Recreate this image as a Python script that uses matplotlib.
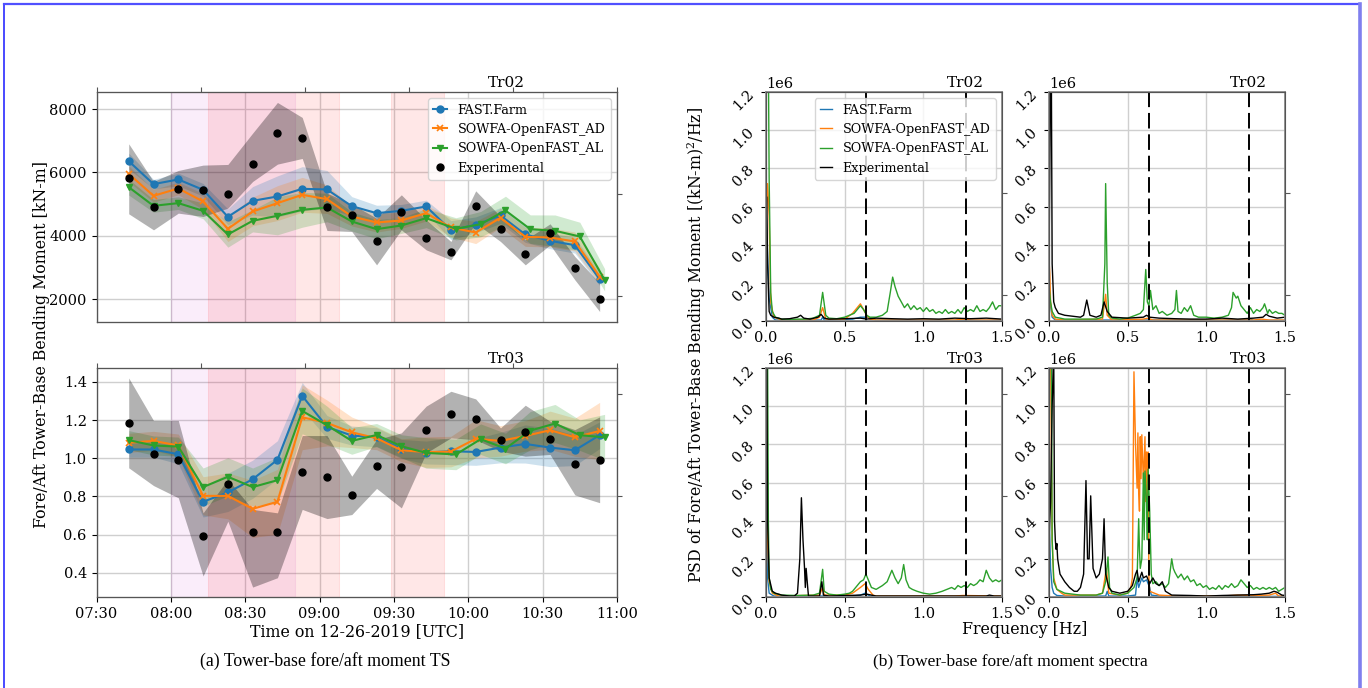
import numpy as np
import matplotlib
matplotlib.use("Agg")
import matplotlib.pyplot as plt
import matplotlib.dates as mdates
from matplotlib.lines import Line2D

plt.rcParams.update({
    "font.family": "serif",
    "font.serif": ["DejaVu Serif"],
    "font.size": 11,
    "xtick.labelsize": 10.5,
    "ytick.labelsize": 10.5,
    "mathtext.fontset": "dejavuserif",
    "axes.edgecolor": "#555555",
    "grid.color": "#cfcfcf",
    "grid.linewidth": 1.0,
})

labels = ["FAST.Farm", "SOWFA-OpenFAST_AD", "SOWFA-OpenFAST_AL", "Experimental"]
colors = ["#1f77b4", "#ff7f0e", "#2ca02c", "k"]

# ---------------- time series (10-min means) ----------------
times = ["07:43", "07:53", "08:03", "08:13", "08:23", "08:33", "08:43", "08:53", "09:03", "09:13",
         "09:23", "09:33", "09:43", "09:53", "10:03", "10:13", "10:23", "10:33", "10:43", "10:53"]
times_al = times[:13] + ["09:55", "10:05", "10:15", "10:25", "10:35", "10:45", "10:55"]

# Tr02 [kN-m]
tr02_ff = [6358, 5632, 5779, 5453, 4600, 5105, 5242, 5484, 5463, 4937,
           4716, 4790, 4926, 4179, 4347, 4642, 4042, 3842, 3705, 2632]
tr02_ad = [5958, 5263, 5495, 5084, 4221, 4768, 5032, 5295, 5158, 4611,
           4421, 4484, 4716, 4263, 4105, 4568, 3968, 3947, 3821, 2716]
tr02_al = [5537, 4947, 5032, 4789, 4042, 4474, 4632, 4821, 4895, 4453,
           4211, 4326, 4558, 4221, 4368, 4800, 4211, 4158, 3979, 2611]
tr02_exp = [5821, 4916, 5474, 5442, 5326, 6274, 7232, 7095, 4916, 4663,
            3821, 4737, 3947, 3474, 4926, 4211, 3432, 4084, 2979, 2021]
tr02_ff_sd = [250, 150, 200, 200, 250, 450, 650, 700, 600, 300,
              250, 200, 200, 300, 250, 250, 250, 250, 250, 200]
tr02_ad_sd = [250, 200, 200, 250, 400, 450, 550, 550, 450, 300,
              300, 250, 250, 300, 350, 300, 300, 300, 300, 250]
tr02_al_sd = [250, 200, 200, 250, 400, 350, 600, 550, 450, 300,
              300, 250, 300, 350, 400, 450, 450, 500, 450, 350]
tr02_exp_lo = [4695, 4189, 4716, 4611, 4874, 5716, 6263, 6442, 4168, 4137,
               3084, 4189, 3558, 3242, 4400, 3821, 3084, 3716, 2611, 1611]
tr02_exp_hi = [6905, 5716, 6063, 6232, 6253, 7242, 8210, 7737, 5347, 5000,
               4558, 5295, 4505, 3821, 5421, 4611, 3874, 4379, 3347, 2505]

# Tr03 [normalised]
tr03_ff = [1.046, 1.046, 1.021, 0.772, 0.821, 0.890, 0.992, 1.327, 1.164, 1.119,
           1.110, 1.049, 1.030, 1.037, 1.033, 1.056, 1.075, 1.056, 1.042, 1.121]
tr03_ad = [1.081, 1.091, 1.067, 0.803, 0.803, 0.735, 0.772, 1.215, 1.185, 1.136,
           1.105, 1.042, 1.032, 1.035, 1.102, 1.091, 1.117, 1.147, 1.110, 1.143]
tr03_al = [1.095, 1.067, 1.061, 0.849, 0.903, 0.849, 0.885, 1.248, 1.173, 1.091,
           1.122, 1.063, 1.028, 1.020, 1.100, 1.051, 1.145, 1.182, 1.121, 1.110]
tr03_exp = [1.184, 1.023, 0.992, 0.595, 0.866, 0.615, 0.615, 0.927, 0.903, 0.805,
            0.957, 0.955, 1.147, 1.234, 1.206, 1.096, 1.138, 1.102, 0.971, 0.992]
tr03_ff_sd = [0.04, 0.04, 0.05, 0.08, 0.10, 0.10, 0.10, 0.07, 0.06, 0.05,
              0.05, 0.05, 0.06, 0.07, 0.07, 0.08, 0.10, 0.10, 0.08, 0.07]
tr03_ad_sd = [0.05, 0.05, 0.06, 0.10, 0.12, 0.15, 0.17, 0.17, 0.12, 0.08,
              0.06, 0.06, 0.08, 0.08, 0.10, 0.08, 0.08, 0.10, 0.10, 0.15]
tr03_al_sd = [0.05, 0.05, 0.05, 0.10, 0.10, 0.10, 0.12, 0.12, 0.10, 0.07,
              0.06, 0.06, 0.08, 0.08, 0.08, 0.08, 0.10, 0.10, 0.08, 0.12]
tr03_exp_lo = [0.950, 0.857, 0.793, 0.383, 0.670, 0.325, 0.374, 0.732, 0.684, 0.705,
               0.842, 0.740, 1.028, 1.107, 1.098, 1.037, 1.011, 1.020, 0.808, 0.767]
tr03_exp_hi = [1.421, 1.198, 1.198, 0.714, 0.889, 0.732, 0.714, 1.119, 1.119, 0.906,
               1.098, 1.133, 1.273, 1.351, 1.311, 1.159, 1.278, 1.194, 1.150, 1.217]

# shaded periods
spans = [("08:00", "08:50", "m", 0.07), ("08:15", "09:08", "r", 0.094), ("09:29", "09:50", "r", 0.094)]

# ---------------- spectra (units of 1e6 (kN-m)^2/Hz) ----------------
# Tr02, left
tl_ff_f = [0, 0.01, 0.02, 0.04, 0.06, 0.35, 0.36, 0.37, 0.55, 0.6, 0.65, 0.7, 1.5]
tl_ff_p = [0.6, 0.35, 0.12, 0.02, 0.005, 0.005, 0.02, 0.005, 0.01, 0.02, 0.02, 0.005, 0.003]
tl_ad_f = [0, 0.01, 0.02, 0.03, 0.05, 0.1, 0.3, 0.34, 0.36, 0.38, 0.5, 0.55, 0.58, 0.6, 0.62, 0.64,
           0.66, 0.7, 1.2, 1.25, 1.3, 1.5]
tl_ad_p = [0.5, 0.72, 0.55, 0.1, 0.02, 0.005, 0.005, 0.02, 0.07, 0.01, 0.01, 0.04, 0.07, 0.09, 0.06, 0.03,
           0.01, 0.005, 0.005, 0.01, 0.005, 0.005]
tl_al_f = [0, 0.01, 0.02, 0.03, 0.04, 0.06, 0.1, 0.15, 0.2, 0.25, 0.3, 0.34, 0.36, 0.38, 0.4, 0.45,
           0.5, 0.53, 0.56, 0.58, 0.6, 0.62, 0.64, 0.66, 0.7, 0.74, 0.77, 0.79, 0.805, 0.82, 0.84,
           0.86, 0.88, 0.9, 0.92, 0.94, 0.96, 0.98, 1.0, 1.02, 1.04, 1.06, 1.08, 1.1, 1.12, 1.14,
           1.16, 1.18, 1.2, 1.22, 1.24, 1.26, 1.28, 1.3, 1.32, 1.34, 1.36, 1.38, 1.4, 1.42, 1.44,
           1.46, 1.48, 1.5]
tl_al_p = [1.6, 2.0, 0.75, 0.15, 0.05, 0.02, 0.01, 0.008, 0.01, 0.01, 0.015, 0.03, 0.15, 0.03, 0.015,
           0.012, 0.02, 0.03, 0.04, 0.06, 0.08, 0.06, 0.03, 0.02, 0.02, 0.03, 0.05, 0.15, 0.23, 0.18,
           0.13, 0.1, 0.07, 0.09, 0.06, 0.08, 0.06, 0.07, 0.05, 0.07, 0.05, 0.06, 0.04, 0.05, 0.04,
           0.06, 0.04, 0.05, 0.04, 0.06, 0.04, 0.07, 0.05, 0.06, 0.05, 0.08, 0.05, 0.06, 0.05, 0.07,
           0.1, 0.06, 0.08, 0.08]
tl_exp_f = [0, 0.005, 0.01, 0.02, 0.03, 0.05, 0.08, 0.1, 0.15, 0.2, 0.22, 0.24, 0.28, 0.33, 0.35,
            0.37, 0.4, 0.5, 0.6, 0.64, 0.7, 0.8, 0.9, 1.0, 1.1, 1.2, 1.3, 1.4, 1.5]
tl_exp_p = [0.3, 0.65, 0.3, 0.05, 0.03, 0.02, 0.015, 0.01, 0.012, 0.02, 0.03, 0.015, 0.01, 0.02, 0.035,
            0.015, 0.01, 0.012, 0.015, 0.01, 0.015, 0.012, 0.01, 0.012, 0.01, 0.015, 0.012, 0.015, 0.01]

# Tr02, right
tr_ff_f = [0, 0.01, 0.02, 0.04, 1.26, 1.28, 1.3, 1.5]
tr_ff_p = [0.15, 0.08, 0.02, 0.005, 0.005, 0.01, 0.003, 0.003]
tr_ad_f = [0, 0.005, 0.01, 0.02, 0.04, 0.1, 0.34, 0.36, 0.37, 0.4, 0.6, 0.63, 0.66, 1.3, 1.35, 1.4, 1.5]
tr_ad_p = [0.32, 0.25, 0.1, 0.03, 0.01, 0.005, 0.01, 0.14, 0.03, 0.005, 0.01, 0.015, 0.005, 0.005,
           0.01, 0.005, 0.005]
tr_al_f = [0, 0.01, 0.02, 0.04, 0.1, 0.2, 0.3, 0.34, 0.355, 0.36, 0.37, 0.38, 0.4, 0.45, 0.5, 0.55,
           0.58, 0.6, 0.615, 0.625, 0.635, 0.645, 0.66, 0.68, 0.7, 0.72, 0.75, 0.78, 0.8, 0.81, 0.82,
           0.84, 0.86, 0.88, 0.9, 0.92, 0.95, 1.0, 1.05, 1.1, 1.14, 1.16, 1.17, 1.19, 1.2, 1.22,
           1.24, 1.26, 1.28, 1.3, 1.32, 1.34, 1.36, 1.37, 1.39, 1.4, 1.42, 1.44, 1.46, 1.48, 1.5]
tr_al_p = [0.18, 0.1, 0.05, 0.02, 0.01, 0.01, 0.01, 0.02, 0.3, 0.72, 0.2, 0.03, 0.015, 0.01, 0.015,
           0.03, 0.04, 0.06, 0.27, 0.1, 0.08, 0.16, 0.06, 0.08, 0.04, 0.05, 0.03, 0.04, 0.06, 0.16,
           0.05, 0.04, 0.07, 0.05, 0.08, 0.03, 0.02, 0.02, 0.015, 0.02, 0.03, 0.07, 0.15, 0.12, 0.13,
           0.08, 0.06, 0.04, 0.07, 0.04, 0.06, 0.05, 0.07, 0.09, 0.04, 0.06, 0.04, 0.05, 0.04, 0.04, 0.03]
tr_exp_f = [0, 0.01, 0.015, 0.02, 0.03, 0.04, 0.06, 0.1, 0.15, 0.2, 0.22, 0.24, 0.26, 0.3, 0.33, 0.35,
            0.37, 0.4, 0.5, 0.6, 0.62, 0.64, 0.7, 0.8, 0.9, 1.0, 1.1, 1.2, 1.3, 1.36, 1.38, 1.4, 1.45, 1.5]
tr_exp_p = [0.3, 1.3, 1.3, 0.3, 0.1, 0.07, 0.04, 0.03, 0.025, 0.02, 0.03, 0.11, 0.03, 0.02, 0.03, 0.1,
            0.05, 0.02, 0.015, 0.02, 0.03, 0.02, 0.015, 0.012, 0.01, 0.01, 0.015, 0.01, 0.015, 0.02,
            0.035, 0.025, 0.015, 0.02]

# Tr03, left
bl_ff_f = [0, 0.005, 0.01, 0.02, 0.05, 0.55, 0.6, 0.63, 0.66, 1.5]
bl_ff_p = [1.3, 0.5, 0.1, 0.02, 0.005, 0.005, 0.01, 0.02, 0.005, 0.003]
bl_ad_f = [0, 0.005, 0.01, 0.02, 0.04, 0.08, 0.34, 0.36, 0.37, 0.5, 0.55, 0.6, 0.63, 0.65, 0.68, 0.7,
           1.2, 1.25, 1.5]
bl_ad_p = [1.0, 1.3, 0.3, 0.08, 0.02, 0.005, 0.01, 0.05, 0.01, 0.01, 0.02, 0.05, 0.07, 0.04, 0.01,
           0.005, 0.005, 0.008, 0.005]
bl_al_f = [0, 0.01, 0.015, 0.02, 0.03, 0.05, 0.1, 0.2, 0.3, 0.34, 0.36, 0.37, 0.4, 0.45, 0.5, 0.53,
           0.55, 0.58, 0.6, 0.62, 0.635, 0.65, 0.67, 0.7, 0.72, 0.74, 0.77, 0.8, 0.82, 0.84, 0.86,
           0.875, 0.89, 0.91, 0.93, 0.96, 1.0, 1.04, 1.08, 1.12, 1.15, 1.18, 1.2, 1.22, 1.24, 1.26,
           1.28, 1.3, 1.32, 1.34, 1.36, 1.38, 1.4, 1.42, 1.44, 1.46, 1.48, 1.5]
bl_al_p = [1.5, 1.3, 0.4, 0.1, 0.04, 0.02, 0.01, 0.008, 0.01, 0.02, 0.145, 0.03, 0.015, 0.01, 0.015,
           0.02, 0.03, 0.06, 0.08, 0.09, 0.12, 0.09, 0.05, 0.04, 0.05, 0.06, 0.08, 0.14, 0.1, 0.07,
           0.1, 0.17, 0.09, 0.05, 0.04, 0.03, 0.02, 0.015, 0.02, 0.03, 0.04, 0.05, 0.04, 0.06, 0.05,
           0.06, 0.05, 0.07, 0.06, 0.07, 0.09, 0.08, 0.14, 0.1, 0.08, 0.09, 0.08, 0.09]
bl_exp_f = [0, 0.005, 0.01, 0.02, 0.04, 0.06, 0.1, 0.15, 0.18, 0.2, 0.215, 0.225, 0.235, 0.245, 0.25,
            0.255, 0.265, 0.27, 0.34, 0.355, 0.365, 0.4, 0.6, 0.64, 0.7, 1.4, 1.42, 1.45, 1.5]
bl_exp_p = [0.5, 1.4, 0.4, 0.1, 0.03, 0.02, 0.01, 0.005, 0.005, 0.02, 0.2, 0.52, 0.3, 0.15, 0.05,
            0.15, 0.05, 0.005, 0.005, 0.08, 0.01, 0.005, 0.01, 0.015, 0.005, 0.005, 0.01, 0.005, 0.005]

# Tr03, right
br_ff_f = [0, 0.005, 0.01, 0.02, 0.03, 0.05, 0.1, 0.36, 0.37, 0.38, 0.5, 0.55, 0.56, 0.57, 0.59, 0.6,
           0.62, 0.64, 0.65, 0.7, 1.5]
br_ff_p = [0.48, 0.3, 0.15, 0.05, 0.02, 0.008, 0.005, 0.005, 0.03, 0.005, 0.005, 0.01, 0.1, 0.05,
           0.1, 0.08, 0.09, 0.05, 0.01, 0.005, 0.003]
br_ad_f = [0, 0.01, 0.02, 0.03, 0.05, 0.08, 0.1, 0.2, 0.3, 0.34, 0.365, 0.38, 0.45, 0.5, 0.52, 0.53,
           0.54, 0.55, 0.56, 0.565, 0.57, 0.575, 0.58, 0.585, 0.59, 0.6, 0.61, 0.615, 0.62, 0.625,
           0.63, 0.635, 0.64, 0.7, 0.8, 1.1, 1.2, 1.3, 1.4, 1.44, 1.46, 1.5]
br_ad_p = [1.3, 1.3, 0.3, 0.1, 0.04, 0.02, 0.01, 0.01, 0.01, 0.02, 0.15, 0.02, 0.01, 0.02, 0.05, 0.1,
           1.18, 0.8, 0.57, 0.86, 0.55, 0.45, 0.84, 0.62, 0.85, 0.6, 0.84, 0.5, 0.76, 0.45, 0.76, 0.1,
           0.03, 0.01, 0.005, 0.005, 0.01, 0.008, 0.01, 0.02, 0.005, 0.005]
br_al_f = [0, 0.015, 0.02, 0.03, 0.05, 0.1, 0.2, 0.3, 0.34, 0.36, 0.375, 0.385, 0.4, 0.45, 0.5, 0.54,
           0.56, 0.57, 0.575, 0.58, 0.59, 0.6, 0.605, 0.61, 0.62, 0.625, 0.63, 0.64, 0.65, 0.66, 0.68,
           0.7, 0.72, 0.74, 0.76, 0.78, 0.79, 0.8, 0.82, 0.84, 0.86, 0.88, 0.9, 0.92, 0.94, 0.96,
           0.98, 1.0, 1.02, 1.04, 1.06, 1.08, 1.1, 1.12, 1.14, 1.16, 1.18, 1.2, 1.22, 1.24, 1.26,
           1.28, 1.3, 1.32, 1.34, 1.36, 1.38, 1.4, 1.42, 1.44, 1.46, 1.48, 1.5]
br_al_p = [1.3, 1.3, 0.3, 0.08, 0.04, 0.02, 0.01, 0.01, 0.02, 0.08, 0.21, 0.05, 0.02, 0.01, 0.02, 0.05,
           0.1, 0.41, 0.25, 0.15, 0.2, 0.65, 0.3, 0.66, 0.5, 0.3, 0.67, 0.45, 0.12, 0.07, 0.08, 0.06,
           0.07, 0.05, 0.07, 0.2, 0.15, 0.13, 0.1, 0.12, 0.09, 0.11, 0.08, 0.09, 0.06, 0.07, 0.05,
           0.06, 0.04, 0.05, 0.04, 0.06, 0.04, 0.06, 0.05, 0.07, 0.05, 0.06, 0.09, 0.07, 0.05, 0.06,
           0.04, 0.05, 0.04, 0.05, 0.04, 0.05, 0.04, 0.05, 0.03, 0.04, 0.05]
br_exp_f = [0, 0.01, 0.02, 0.03, 0.035, 0.04, 0.045, 0.05, 0.055, 0.07, 0.1, 0.13, 0.16, 0.18, 0.2,
            0.22, 0.235, 0.245, 0.255, 0.265, 0.28, 0.3, 0.32, 0.34, 0.35, 0.36, 0.38, 0.4, 0.45,
            0.5, 0.53, 0.55, 0.56, 0.57, 0.59, 0.6, 0.62, 0.64, 0.66, 0.68, 0.7, 0.72, 0.74, 0.78,
            0.9, 1.0, 1.1, 1.2, 1.3, 1.35, 1.4, 1.43, 1.45, 1.48, 1.5]
br_exp_p = [0.3, 0.5, 1.0, 1.3, 0.4, 0.3, 0.25, 0.28, 0.2, 0.12, 0.08, 0.05, 0.03, 0.03, 0.05,
            0.12, 0.61, 0.2, 0.2, 0.53, 0.15, 0.1, 0.12, 0.2, 0.41, 0.12, 0.05, 0.03, 0.02,
            0.03, 0.06, 0.12, 0.14, 0.08, 0.13, 0.1, 0.11, 0.07, 0.1, 0.07, 0.06, 0.08, 0.03, 0.01,
            0.008, 0.005, 0.008, 0.01, 0.012, 0.015, 0.02, 0.03, 0.025, 0.01, 0.008]

freq_marks = [0.635, 1.27]

W, H = 1368, 688
fig = plt.figure(figsize=(W / 100, H / 100), dpi=100)


def box(x0, y0, x1, y1):
    return [x0 / W, 1 - y1 / H, (x1 - x0) / W, (y1 - y0) / H]


def dt(hm):
    return np.array(["2019-12-26T" + t for t in np.atleast_1d(hm)], dtype="datetime64[m]")


def extra_ticks(ax, yfr, top=False):
    tw = ax.twinx()
    tw.set_ylim(0, 1)
    tw.set_yticks(yfr)
    tw.set_yticklabels([])
    tw.tick_params(length=3.5, color="#555555")
    if top:
        tt = ax.twiny()
        tt.set_xlim(0, 1)
        tt.set_xticks([0, 0.2, 0.4, 0.6, 0.8, 1.0])
        tt.set_xticklabels([])
        tt.tick_params(length=3.5, color="#555555")


# ---------------- left: time series ----------------
ts_rows = [
    ("Tr02", tr02_ff, tr02_ad, tr02_al, tr02_exp, tr02_ff_sd, tr02_ad_sd, tr02_al_sd,
     tr02_exp_lo, tr02_exp_hi, (1280, 8540), [2000, 4000, 6000, 8000], 92, 322, [0.114, 0.558]),
    ("Tr03", tr03_ff, tr03_ad, tr03_al, tr03_exp, tr03_ff_sd, tr03_ad_sd, tr03_al_sd,
     tr03_exp_lo, tr03_exp_hi, (0.273, 1.473), [0.4, 0.6, 0.8, 1.0, 1.2, 1.4], 368, 597, [0.44, 0.885]),
]
t = dt(times)
t_al = dt(times_al)
for i, (name, ff, ad, al, ex, ffs, ads, als, lo, hi, ylim, yt, y0, y1, rt) in enumerate(ts_rows):
    ax = fig.add_axes(box(96.5, y0, 617, y1))
    for a, b, c, al_ in spans:
        ax.axvspan(dt(a)[0], dt(b)[0], color=c, alpha=al_, lw=0.8)
    for vals, sd, tt, c in [(ff, ffs, t, colors[0]), (ad, ads, t, colors[1]), (al, als, t_al, colors[2])]:
        v = np.array(vals)
        s = np.array(sd)
        ax.fill_between(tt, v - s, v + s, color=c, alpha=0.22, lw=0)
    ax.fill_between(t, lo, hi, color="k", alpha=0.3, lw=0)
    ax.plot(t, ff, "-o", color=colors[0], ms=5, lw=1.5, label=labels[0])
    ax.plot(t, ad, "-x", color=colors[1], ms=5, mew=1.2, lw=1.5, label=labels[1])
    ax.plot(t_al, al, "-v", color=colors[2], ms=5, lw=1.5, label=labels[2])
    ax.plot(t, ex, "o", color="k", ms=5, label=labels[3])
    ax.set_xlim(dt("07:30")[0], dt("11:00")[0])
    ax.set_ylim(*ylim)
    ax.set_yticks(yt)
    ax.xaxis.set_major_locator(mdates.MinuteLocator(byminute=[0, 30]))
    ax.xaxis.set_major_formatter(mdates.DateFormatter("%H:%M"))
    ax.grid(True)
    ax.set_axisbelow(True)
    ax.text(0.787, 1.01, name, transform=ax.transAxes, ha="center", va="bottom")
    if i == 0:
        ax.tick_params(axis="x", labelbottom=False, length=0)
        ax.legend(loc="upper right", fontsize=9.2, handlelength=1.1, framealpha=0.8)
    else:
        ax.set_xlabel("Time on 12-26-2019 [UTC]", labelpad=2, fontsize=11.4)
    extra_ticks(ax, rt, top=True)

fig.text(42 / W, 1 - 344 / H, "Fore/Aft Tower-Base Bending Moment [kN-m]", rotation=90,
         ha="center", va="center", fontsize=11.3)

# ---------------- right: spectra ----------------
spec_panels = [
    ("Tr02", 766, 1002, 92, 321, [(tl_ff_f, tl_ff_p), (tl_ad_f, tl_ad_p), (tl_al_f, tl_al_p), (tl_exp_f, tl_exp_p)], [0.114, 0.558]),
    ("Tr02", 1049, 1285, 92, 321, [(tr_ff_f, tr_ff_p), (tr_ad_f, tr_ad_p), (tr_al_f, tr_al_p), (tr_exp_f, tr_exp_p)], [0.114, 0.558]),
    ("Tr03", 766, 1002, 368, 597, [(bl_ff_f, bl_ff_p), (bl_ad_f, bl_ad_p), (bl_al_f, bl_al_p), (bl_exp_f, bl_exp_p)], [0.44, 0.885]),
    ("Tr03", 1049, 1285, 368, 597, [(br_ff_f, br_ff_p), (br_ad_f, br_ad_p), (br_al_f, br_al_p), (br_exp_f, br_exp_p)], [0.44, 0.885]),
]
for k, (name, x0, x1, y0, y1, series, rt) in enumerate(spec_panels):
    ax = fig.add_axes(box(x0, y0, x1, y1))
    for (f, p), c, lab in zip(series, colors, labels):
        ax.plot(f, np.array(p) * 1e6, color=c, lw=1.0, label=lab)
    for fm in freq_marks:
        ax.axvline(fm, color="k", ls=(0, (8, 3)), lw=1.4)
    ax.set_xlim(0, 1.5)
    ax.set_ylim(0, 1.2e6)
    ax.set_xticks([0, 0.5, 1.0, 1.5])
    ax.set_yticks(np.arange(0, 1.21e6, 0.2e6))
    ax.tick_params(axis="y", labelrotation=45)
    ax.grid(True)
    ax.set_axisbelow(True)
    for sp in ax.spines.values():
        sp.set_color("#8c8c8c")
        sp.set_linewidth(1.3)
    ax.text(0.845, 1.01, name, transform=ax.transAxes, ha="center", va="bottom")
    if k == 0:
        ax.legend(loc="upper right", fontsize=9.2, handlelength=1.0, framealpha=0.8)
    extra_ticks(ax, rt)

fig.text(697 / W, 1 - 345 / H, "PSD of Fore/Aft Tower-Base Bending Moment [(kN-m)$^2$/Hz]",
         rotation=90, ha="center", va="center", fontsize=11.3)
fig.text(1025 / W, 1 - 630 / H, "Frequency [Hz]", ha="center", va="center", fontsize=11.4)

# captions
fig.text(325 / W, 1 - 661 / H, "(a) Tower-base fore/aft moment TS", ha="center", va="center",
         family="Liberation Serif", fontsize=12.8)
fig.text(1010 / W, 1 - 662 / H, "(b) Tower-base fore/aft moment spectra", ha="center", va="center",
         family="Liberation Serif", fontsize=12.5)

# page frame
fig.add_artist(Line2D([4 / W, 4 / W], [0, 1 - 4 / H], color="#2a2aff", lw=1.2))
fig.add_artist(Line2D([4 / W, 1359 / W], [1 - 4 / H, 1 - 4 / H], color="#5050ff", lw=1.6))
fig.add_artist(Line2D([1360 / W, 1360 / W], [0, 1 - 4 / H], color="#7f7fee", lw=2.6))

fig.savefig("out.png", dpi=100)
